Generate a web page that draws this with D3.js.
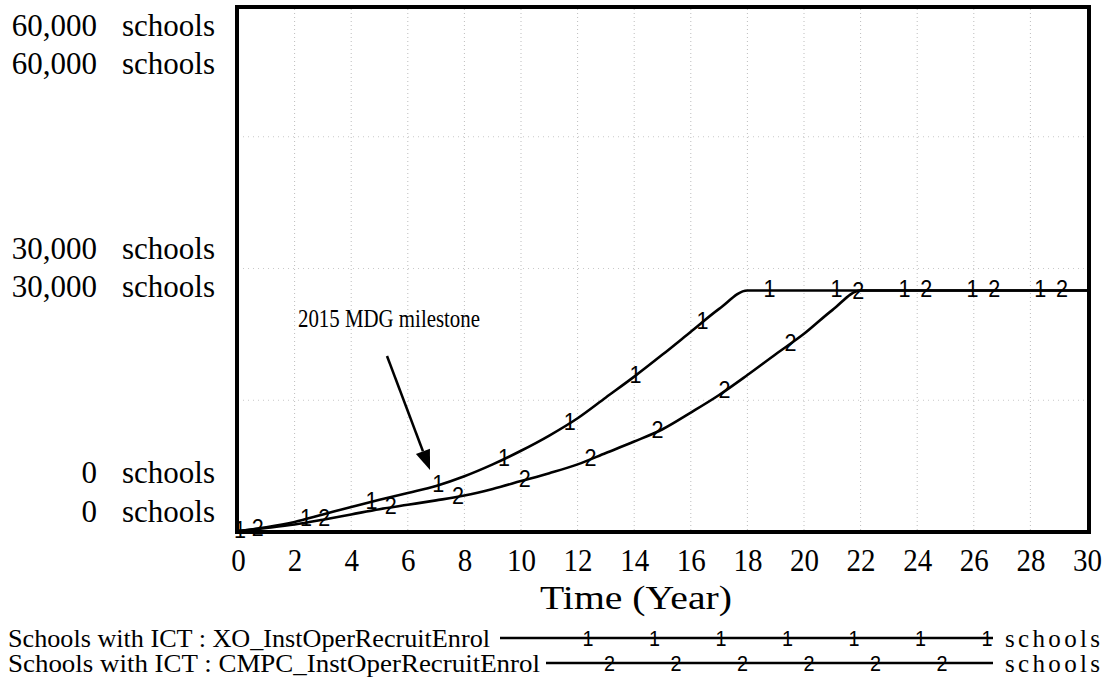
<!DOCTYPE html>
<html>
<head>
<meta charset="utf-8">
<script src="https://cdn.jsdelivr.net/npm/d3@7"></script>
<style>
  html, body { margin: 0; padding: 0; background: #fff; }
  svg { display: block; }
</style>
</head>
<body>
<svg id="chart" width="1110" height="690"></svg>
<script>
// ---------- data ----------
const years = [0,1,2,3,4,5,6,7,8,9,10,11,12,13,14,15,16,17,18,19,20,21,22,23,24,25,26,27,28,29,30];
const seriesXO = [100,550,1150,2000,2850,3680,4450,5250,6350,7700,9250,10980,12950,15320,17690,20200,22800,25400,27500,27500,27500,27500,27500,27500,27500,27500,27500,27500,27500,27500,27500];
const seriesCMPC = [100,450,850,1400,2000,2600,3100,3600,4150,4900,5800,6700,7700,9000,10300,11700,13600,15600,17870,20240,22560,25260,27500,27500,27500,27500,27500,27500,27500,27500,27500];
const seriesNames = ["Schools with ICT : XO_InstOperRecruitEnrol", "Schools with ICT : CMPC_InstOperRecruitEnrol"];
const seriesMarks = ["1", "2"];
const markerYearsXO = [0.07, 2.4, 4.72, 7.08, 9.4, 11.72, 14.05, 16.41, 18.78, 21.15, 23.55, 25.95, 28.35];
const markerYearsCMPC = [0.7, 3.05, 5.4, 7.77, 10.13, 12.46, 14.82, 17.19, 19.52, 21.92, 24.32, 26.72, 29.12];
const xTicks = [0,2,4,6,8,10,12,14,16,18,20,22,24,26,28,30];
const yTickValues = [60000, 30000, 0];
const yTickLabels = ["60,000", "30,000", "0"];
const unitLabel = "schools";
const xTitle = "Time (Year)";
const annotationText = "2015 MDG milestone";

// ---------- layout ----------
const svg = d3.select("#chart");
const x = d3.scaleLinear().domain([0, 30]).range([238, 1087]);
const y = d3.scaleLinear().domain([0, 60000]).range([532, 5]);
const serif = "'Liberation Serif','Times New Roman',serif";
const sans = "'Liberation Sans',Arial,sans-serif";

// gridlines (faint dotted)
const grid = svg.append("g");
grid.selectAll("line.v").data(xTicks.slice(1, -1)).join("line")
  .attr("x1", d => x(d)).attr("x2", d => x(d))
  .attr("y1", y(60000)).attr("y2", y(0))
  .attr("stroke", "#bdbdbd").attr("stroke-width", 1).attr("stroke-dasharray", "1,3");
grid.selectAll("line.h").data([15000, 30000, 45000]).join("line")
  .attr("x1", x(0)).attr("x2", x(30))
  .attr("y1", d => y(d)).attr("y2", d => y(d))
  .attr("stroke", "#c8c8c8").attr("stroke-width", 1).attr("stroke-dasharray", "1,4");

// x axis tick labels
const xAxis = d3.axisBottom(x).tickValues(xTicks).tickSize(0).tickPadding(0).tickFormat(d3.format("d"));
const gx = svg.append("g").attr("transform", "translate(0,571)").call(xAxis);
gx.select(".domain").remove();
gx.selectAll("text").attr("dy", null).attr("y", 0)
  .attr("font-family", serif).attr("font-size", 31).attr("fill", "#000")
  .attr("textLength", d => String(d).length * 14.5).attr("lengthAdjust", "spacingAndGlyphs");

// y labels (Vensim-style stacked double labels)
const yOffsets = [[31, 69], [-10, 28], [-49, -10]];
yTickValues.forEach((v, i) => {
  yOffsets[i].forEach(off => {
    svg.append("text").attr("x", 97).attr("y", y(v) + off)
      .attr("text-anchor", "end").attr("font-family", serif).attr("font-size", 31)
      .text(yTickLabels[i]);
    svg.append("text").attr("x", 122).attr("y", y(v) + off)
      .attr("font-family", serif).attr("font-size", 31)
      .text(unitLabel);
  });
});

// x title
svg.append("text").attr("x", 636).attr("y", 609).attr("text-anchor", "middle")
  .attr("font-family", serif).attr("font-size", 33)
  .attr("textLength", 192).attr("lengthAdjust", "spacingAndGlyphs")
  .text(xTitle);

// series lines
const allSeries = [
  { values: seriesXO, marks: markerYearsXO, label: seriesMarks[0] },
  { values: seriesCMPC, marks: markerYearsCMPC, label: seriesMarks[1] }
];
const line = d3.line().x((d, i) => x(years[i])).y(d => y(d)).curve(d3.curveMonotoneX);
const interp = (vals, t) => {
  const i = Math.min(Math.floor(t), years.length - 2);
  const f = t - years[i];
  return vals[i] + (vals[i + 1] - vals[i]) * f;
};
allSeries.forEach(s => {
  svg.append("path").datum(s.values).attr("d", line)
    .attr("fill", "none").attr("stroke", "#000").attr("stroke-width", 2.6);
});
allSeries.forEach(s => {
  svg.append("g").selectAll("text").data(s.marks).join("text")
    .attr("x", d => x(d)).attr("y", d => y(interp(s.values, d)) + 7)
    .attr("text-anchor", "middle").attr("font-family", sans).attr("font-size", 23)
    .attr("textLength", 12).attr("lengthAdjust", "spacingAndGlyphs")
    .text(s.label);
});

// frame
svg.append("rect").attr("x", x(0) - 1).attr("y", y(60000) + 2)
  .attr("width", x(30) - x(0) + 3).attr("height", y(0) - y(60000) - 2)
  .attr("fill", "none").attr("stroke", "#000").attr("stroke-width", 4);

// annotation
svg.append("text").attr("x", 298).attr("y", 327)
  .attr("font-family", serif).attr("font-size", 26)
  .attr("textLength", 182).attr("lengthAdjust", "spacingAndGlyphs")
  .text(annotationText);
const ax0 = 387, ay0 = 356, ax1 = 430, ay1 = 470;
const ang = Math.atan2(ay1 - ay0, ax1 - ax0);
const hl = 20, hw = 7.5;
const bx = ax1 - hl * Math.cos(ang), by = ay1 - hl * Math.sin(ang);
svg.append("line").attr("x1", ax0).attr("y1", ay0).attr("x2", bx).attr("y2", by)
  .attr("stroke", "#000").attr("stroke-width", 2.5);
svg.append("path")
  .attr("d", `M${ax1},${ay1} L${bx + hw * Math.sin(ang)},${by - hw * Math.cos(ang)} L${bx - hw * Math.sin(ang)},${by + hw * Math.cos(ang)} Z`)
  .attr("fill", "#000");

// legend
const legendRows = [
  { text: seriesNames[0], textLen: 482, y: 647, x0: 500, x1: 993, marks: [588, 654.5, 721, 787.5, 854, 920.5, 987], label: seriesMarks[0] },
  { text: seriesNames[1], textLen: 532, y: 672, x0: 546, x1: 993, marks: [609.5, 676, 742.5, 809, 875.5, 942], label: seriesMarks[1] }
];
legendRows.forEach(r => {
  svg.append("text").attr("x", 8).attr("y", r.y)
    .attr("font-family", serif).attr("font-size", 25)
    .attr("textLength", r.textLen).attr("lengthAdjust", "spacingAndGlyphs")
    .text(r.text);
  svg.append("line").attr("x1", r.x0).attr("x2", r.x1).attr("y1", r.y - 9).attr("y2", r.y - 9)
    .attr("stroke", "#000").attr("stroke-width", 2.4);
  r.marks.forEach(mx => {
    svg.append("text").attr("x", mx).attr("y", r.y - 1).attr("text-anchor", "middle")
      .attr("font-family", sans).attr("font-size", 22)
      .attr("textLength", 11).attr("lengthAdjust", "spacingAndGlyphs")
      .text(r.label);
  });
  svg.append("text").attr("x", 1005).attr("y", r.y)
    .attr("font-family", serif).attr("font-size", 25)
    .attr("textLength", 95).attr("lengthAdjust", "spacing")
    .text(unitLabel);
});
</script>
</body>
</html>
